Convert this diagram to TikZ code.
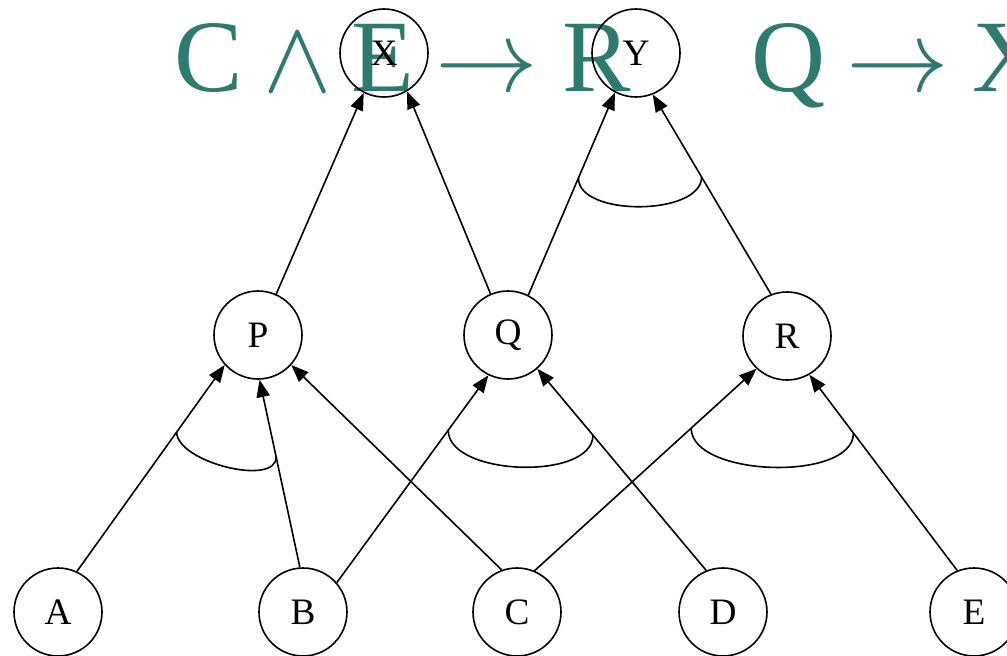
\documentclass[tikz,border=0pt]{standalone}
\usepackage{graphicx}
\usepackage{fontspec}
\setmainfont{Liberation Serif}
\usetikzlibrary{arrows.meta,calc}
\definecolor{logicteal}{RGB}{47,122,111}
\newcommand{\bigwedgesym}{\scalebox{7.7}{\fontsize{10}{12}\selectfont$\wedge$}}
\newcommand{\bigarrowsym}{\scalebox{7.7}{\fontsize{10}{12}\selectfont$\rightarrow$}}
\begin{document}
\begin{tikzpicture}[x=0.75pt,y=-0.75pt,
  state/.style={circle,draw,line width=1.2pt,minimum size=66pt,inner sep=0pt,
    font=\fontsize{28}{28}\selectfont},
  edge/.style={line width=1.2pt,-{Triangle[length=13pt,width=10pt]}},
  andarc/.style={line width=1.2pt},
  formula/.style={text=logicteal,font=\fontsize{77}{77}\selectfont,inner sep=0pt,anchor=base west}]
\useasboundingbox (0,0) rectangle (1007,656);
\clip (0,0) rectangle (1007,656);
% overlaid formulas
\node[formula] (f1) at (174,92) {C\hspace{15.5pt}\bigwedgesym\hspace{14.75pt}E\hspace{16.25pt}\bigarrowsym\hspace{17.75pt}R};
\node[formula] (f2) at (751,92) {Q\hspace{15.5pt}\bigarrowsym\hspace{17.75pt}X};
% nodes
\node[state] (X) at (384,53) {X};
\node[state] (Y) at (636,53) {Y};
\node[state] (P) at (258,335) {P};
\node[state] (Q) at (508,335) {Q};
\node[state] (R) at (787,336) {R};
\node[state] (A) at (58,612) {A};
\node[state] (B) at (303,612) {B};
\node[state] (C) at (517,612) {C};
\node[state] (D) at (723,612) {D};
\node[state] (E) at (974,612) {E};
% edges
\draw[edge] (A.65) -- (P.222);
\draw[edge] (B.94) -- (P.272);
\draw[edge] (C.110) -- (P.318);
\draw[edge] (B.41) -- (Q.244);
\draw[edge] (D.112) -- (Q.311);
\draw[edge] (C.67) -- (R.227);
\draw[edge] (E.112) -- (R.300);
\draw[edge] (P.66) -- (X.243);
\draw[edge] (Q.113) -- (X.301);
\draw[edge] (Q.63) -- (Y.242);
\draw[edge] (R.111) -- (Y.292);
% and-arcs
\coordinate (p1) at ($(A.65)!0.675!(P.222)$);
\coordinate (p2) at ($(B.94)!0.588!(P.272)$);
\coordinate (q1) at ($(B.41)!0.735!(Q.244)$);
\coordinate (q2) at ($(D.112)!0.671!(Q.311)$);
\coordinate (r1) at ($(C.67)!0.706!(R.227)$);
\coordinate (r2) at ($(E.112)!0.702!(R.300)$);
\coordinate (y1) at ($(Q.63)!0.578!(Y.242)$);
\coordinate (y2) at ($(R.111)!0.587!(Y.292)$);
\draw[andarc] (p1) .. controls ($(p1)+(0,30)$) and ($(p2)+(0,30)$) .. (p2);
\draw[andarc] (q1) .. controls ($(q1)+(0,46)$) and ($(q2)+(0,46)$) .. (q2);
\draw[andarc] (r1) .. controls ($(r1)+(0,49)$) and ($(r2)+(0,49)$) .. (r2);
\draw[andarc] (y1) .. controls ($(y1)+(0,39)$) and ($(y2)+(0,39)$) .. (y2);
\end{tikzpicture}
\end{document}
